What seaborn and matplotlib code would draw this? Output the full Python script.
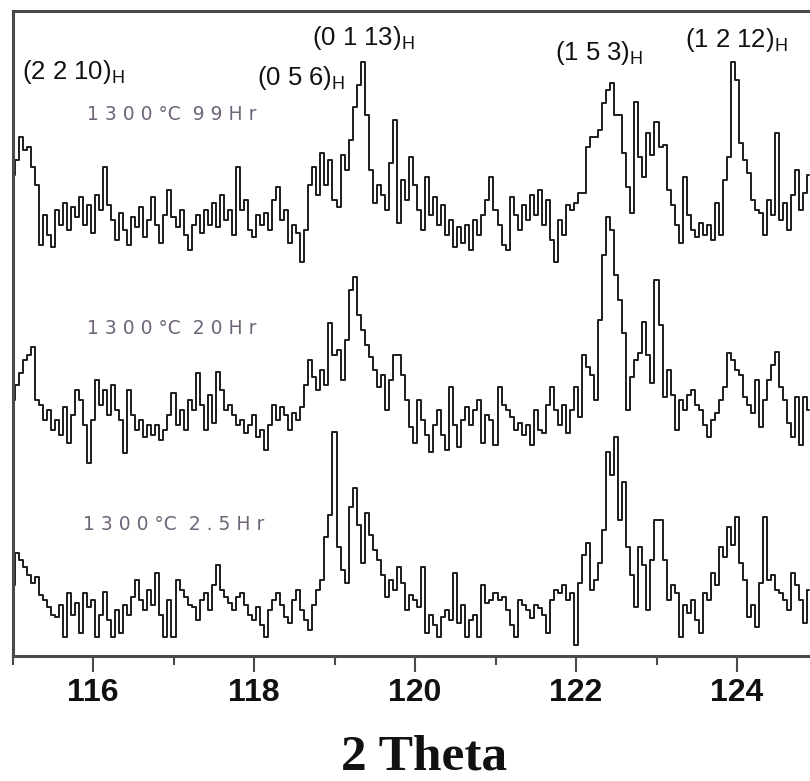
import numpy as np
import pandas as pd
import matplotlib
matplotlib.use("Agg")
import matplotlib.pyplot as plt
import seaborn as sns

# 2-theta scan grid (0.05 deg step)
two_theta = np.round(115.0 + 0.05 * np.arange(199), 2)

# Intensities (a.u.) for each annealing time
int_99h = [80, 95, 118, 105, 108, 88, 70, 10, 40, 20,
           8, 45, 30, 52, 25, 48, 38, 58, 30, 50,
           22, 60, 45, 88, 50, 35, 15, 42, 25, 10,
           38, 28, 48, 18, 35, 58, 30, 12, 40, 65,
           38, 28, 45, 20, 5, 30, 40, 22, 45, 30,
           52, 28, 60, 35, 45, 20, 88, 45, 55, 25,
           18, 40, 30, 42, 25, 55, 68, 35, 45, 12,
           30, 22, -7, 25, 70, 88, 60, 102, 70, 95,
           55, 48, 100, 85, 115, 148, 170, 193, 140, 85,
           52, 70, 60, 45, 92, 135, 32, 75, 55, 98,
           70, 45, 25, 78, 40, 58, 30, 50, 20, 35,
           8, 28, 12, 30, 5, 35, 20, 40, 55, 78,
           45, 30, 10, 5, 58, 40, 25, 50, 35, 60,
           40, 65, 30, 55, 15, -7, 35, 20, 50, 45,
           52, 62, 62, 108, 118, 118, 125, 152, 165, 172,
           140, 140, 102, 68, 42, 153, 98, 78, 122, 100,
           133, 108, 110, 65, 50, 30, 12, 78, 40, 25,
           18, 32, 20, 30, 15, 52, 20, 75, 98, 193,
           175, 112, 95, 82, 55, 45, 42, 20, 55, 40,
           122, 35, 52, 25, 60, 85, 45, 62, 80]

int_20h = [55, 70, 82, 95, 100, 108, 55, 50, 35, 45,
           25, 35, 20, 48, 12, 40, 65, 55, 30, -8,
           35, 75, 50, 65, 40, 70, 45, 35, 2, 65,
           40, 25, 35, 18, 30, 20, 30, 15, 25, 40,
           62, 30, 45, 25, 55, 45, 82, 50, 25, 60,
           32, 83, 65, 45, 50, 40, 30, 35, 22, 30,
           40, 18, 25, 5, 30, 50, 35, 48, 40, 25,
           42, 35, 48, 70, 95, 78, 65, 85, 70, 132,
           100, 105, 75, 115, 165, 178, 140, 125, 110, 98,
           85, 68, 80, 45, 75, 100, 100, 80, 55, 28,
           12, 55, 35, 20, 3, 30, 45, 20, 5, 68,
           30, 8, 35, 48, 30, 45, 55, 12, 40, 35,
           10, 68, 50, 45, 38, 25, 32, 20, 30, 10,
           45, 25, 22, 50, 68, 45, 30, 50, 22, 45,
           68, 38, 100, 88, 80, 55, 135, 200, 238, 225,
           180, 155, 122, 45, 78, 95, 102, 133, 100, 72,
           175, 130, 58, 85, 60, 25, 55, 45, 60, 65,
           50, 45, 30, 18, 35, 42, 55, 68, 102, 95,
           85, 80, 58, 50, 42, 75, 28, 55, 75, 90,
           103, 68, 55, 32, 18, 58, 10, 58, 45]

int_2p5h = [60, 92, 85, 78, 70, 62, 68, 50, 45, 38,
            30, 28, 40, 8, 52, 30, 42, 12, 52, 38,
            45, 8, 30, 53, 25, 8, 35, 12, 40, 30,
            48, 65, 45, 35, 55, 40, 72, 30, 8, 45,
            8, 65, 55, 48, 40, 38, 25, 45, 52, 35,
            60, 80, 55, 48, 42, 35, 48, 52, 40, 30,
            25, 38, 20, 8, 35, 45, 52, 40, 28, 22,
            45, 55, 35, 25, 15, 40, 55, 65, 108, 130,
            213, 98, 75, 62, 138, 157, 120, 82, 132, 110,
            95, 85, 70, 48, 65, 55, 78, 62, 35, 50,
            45, 38, 78, 12, 30, 20, 8, 28, 35, 25,
            72, 22, 40, 8, 25, 30, 8, 60, 42, 45,
            52, 45, 48, 35, 20, 8, 45, 40, 35, 27,
            40, 37, 30, 12, 45, 55, 52, 60, 45, 52,
            0, 62, 90, 102, 55, 65, 82, 115, 193, 170,
            208, 125, 163, 98, 70, 38, 98, 80, 35, 85,
            125, 125, 85, 45, 60, 52, 8, 40, 32, 45,
            25, 12, 52, 45, 72, 60, 98, 88, 118, 100,
            128, 82, 65, 28, 40, 18, 62, 128, 65, 70,
            55, 52, 45, 35, 72, 60, 45, 22, 55]

# Sample labels and vertical stacking offsets
samples = ["1300°C 99Hr", "1300°C 20Hr", "1300°C 2.5Hr"]
sample_text = ["1 3 0 0 °C  9 9 H r", "1 3 0 0 °C  2 0 H r", "1 3 0 0 °C  2 . 5 H r"]
offsets = [401, 201, 11]
label_pos = [(115.925, 541), (115.925, 328), (115.876, 131)]

# Reflection labels (hexagonal indices) and their positions
hkl_labels = ["(2 2 10)", "(0 5 6)", "(0 1 13)", "(1 5 3)", "(1 2 12)"]
hkl_pos = [(115.118, 577), (118.037, 571), (118.72, 611), (121.739, 596), (123.354, 609)]

x_ticks = [116, 118, 120, 122, 124]
x_minor = [115, 117, 119, 121, 123, 125]

df = pd.concat([
    pd.DataFrame({"two_theta": two_theta, "intensity": np.asarray(v) + off, "sample": s})
    for v, off, s in zip([int_99h, int_20h, int_2p5h], offsets, samples)
], ignore_index=True)

sns.set_style("white")
fig = plt.figure(figsize=(8.10, 7.81), dpi=100)
ax = fig.add_axes([12.5 / 810, 125 / 781, 805 / 810, 645.5 / 781])

for s in samples:
    sns.lineplot(data=df[df["sample"] == s], x="two_theta", y="intensity",
                 estimator=None, color="#1c1c1c", linewidth=1.4,
                 drawstyle="steps-mid", ax=ax, legend=False)

ax.set_xlim(115, 125)
ax.set_ylim(0, 645.5)
ax.set_yticks([])
ax.set_xlabel("")
ax.set_ylabel("")

spine_col = "#4a4a4a"
for side in ["left", "bottom", "top", "right"]:
    ax.spines[side].set_visible(True)
    ax.spines[side].set_color(spine_col)
    ax.spines[side].set_linewidth(2.2)

ax.set_xticks(x_ticks)
ax.set_xticks(x_minor, minor=True)
ax.set_xticklabels([str(t) for t in x_ticks])
ax.tick_params(axis="x", which="major", direction="out", length=11.5, width=1.5,
               color=spine_col, pad=4, labelsize=23, bottom=True)
ax.tick_params(axis="x", which="minor", direction="out", length=6.5, width=1.5,
               color=spine_col, bottom=True)
for lab in ax.get_xticklabels():
    lab.set_fontfamily("Liberation Sans")
    lab.set_fontweight("bold")
    lab.set_color("#111111")

for txt, (x, y) in zip(sample_text, label_pos):
    ax.text(x, y, txt, fontsize=13.5, family="DejaVu Sans", color="#6f6478",
            ha="left", va="center")

for txt, (x, y) in zip(hkl_labels, hkl_pos):
    ax.text(x, y, txt + r"$_{\mathregular{H}}$", fontsize=18.5, family="Liberation Sans",
            color="#111111", ha="left", va="baseline")

fig.text(424 / 810, 1 / 781, "2 Theta", fontsize=37, family="Liberation Serif",
         fontweight="bold", ha="center", va="bottom", color="#111111")

fig.savefig("out.png", dpi=100)
